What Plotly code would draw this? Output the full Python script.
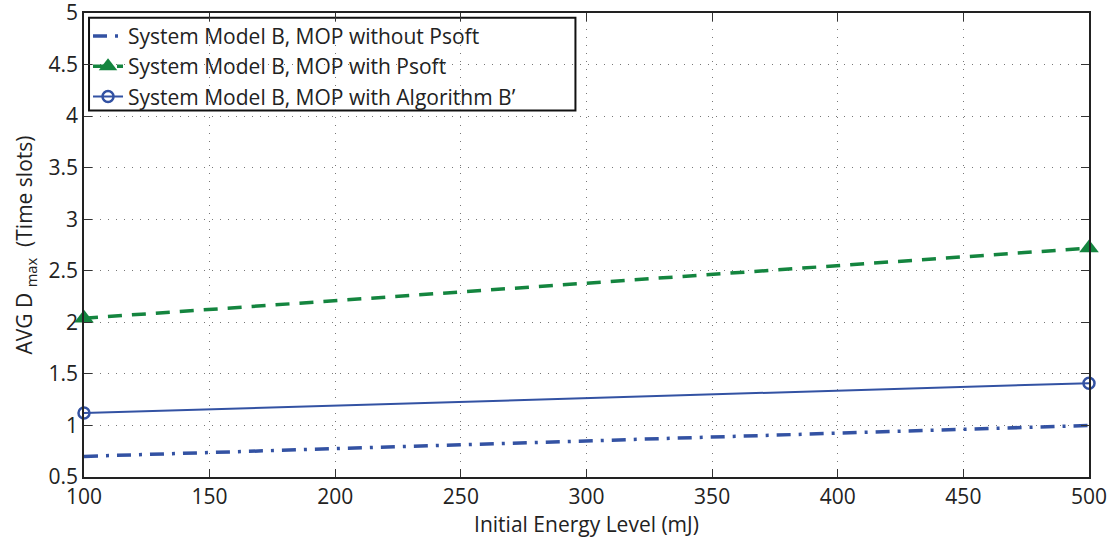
import plotly.graph_objects as go

energy = [100, 500]
no_psoft = [0.70, 1.00]
with_psoft = [2.04, 2.72]
algo_b = [1.12, 1.41]

blue = "#3352A3"
green = "#14853F"
font = "Open Sans, Liberation Sans, sans-serif"
fs = 21

fig = go.Figure()
fig.add_trace(go.Scatter(x=energy, y=no_psoft, mode="lines",
                         name="System Model B, MOP without Psoft", cliponaxis=False,
                         line=dict(color=blue, width=3.5, dash="14px,8px,3px,8px")))
fig.add_trace(go.Scatter(x=energy, y=with_psoft, mode="lines+markers",
                         name="System Model B, MOP with Psoft", cliponaxis=False,
                         line=dict(color=green, width=3.5, dash="14px,10px"),
                         marker=dict(symbol="triangle-up", size=17, color=green)))
fig.add_trace(go.Scatter(x=energy, y=algo_b, mode="lines+markers",
                         name="System Model B, MOP with Algorithm B\u2019", cliponaxis=False,
                         line=dict(color=blue, width=2),
                         marker=dict(symbol="circle-open", size=11, color=blue, line=dict(width=2.5))))

axis_common = dict(showline=True, linecolor="#222", linewidth=1.5, mirror="ticks",
                   ticks="inside", ticklen=8, tickcolor="#333",
                   showgrid=True, gridcolor="#777", griddash="1px,7px", gridwidth=1,
                   zeroline=False, ticklabeloverflow="allow", automargin=False,
                   tickfont=dict(size=fs, color="#222", family=font))

fig.update_xaxes(range=[100, 500], dtick=50, **axis_common,
                 title=dict(text="Initial Energy Level (mJ)", font=dict(size=fs, color="#222", family=font), standoff=0))
fig.update_yaxes(range=[0.5, 5], dtick=0.5, **axis_common,
                 title=dict(text="AVG D <sub>max</sub>  (Time slots)", font=dict(size=fs, color="#222", family=font), standoff=10))

fig.update_layout(
    width=1118, height=538,
    margin=dict(l=84, r=29, t=13, b=61, autoexpand=False),
    plot_bgcolor="white", paper_bgcolor="white",
    legend=dict(x=0.004, y=0.994, xanchor="left", yanchor="top",
                borderwidth=0, bgcolor="rgba(0,0,0,0)",
                font=dict(size=fs, color="#222", family=font),
                tracegroupgap=0, itemwidth=30),
    shapes=[dict(type="rect", xref="paper", yref="paper",
                 x0=0.005, x1=0.489, y0=0.79, y1=0.99,
                 line=dict(color="#111", width=2), fillcolor="white", layer="below")],
    showlegend=True,
)

fig.write_html("out.html")
